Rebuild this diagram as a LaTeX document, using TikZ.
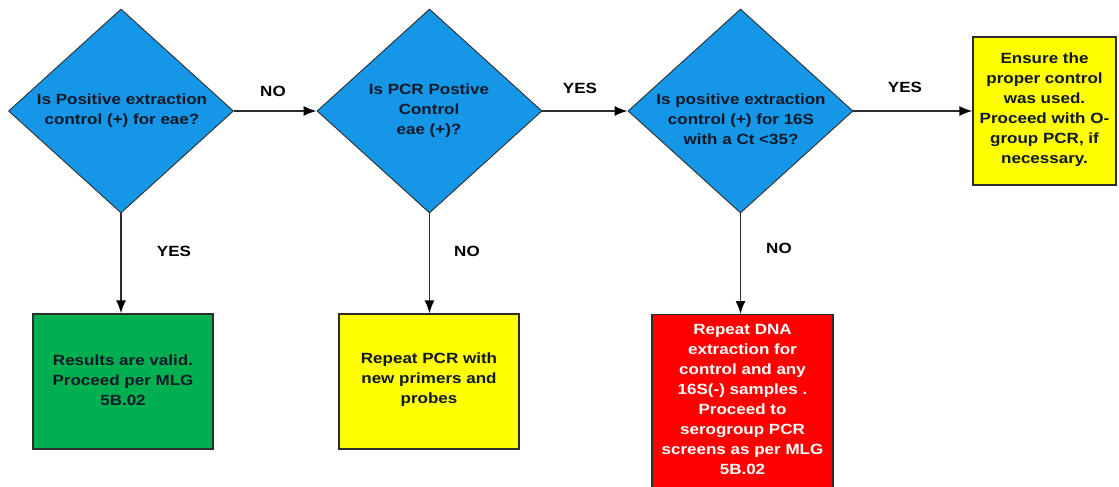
\documentclass[tikz,border=0pt]{standalone}
\usepackage{fontspec}
\setmainfont{Liberation Sans}[FakeStretch=1.15]
\usetikzlibrary{shapes.geometric,arrows.meta}
\definecolor{diablue}{RGB}{22,150,230}
\definecolor{boxgreen}{RGB}{0,176,80}
\definecolor{boxyellow}{RGB}{255,255,0}
\definecolor{boxred}{RGB}{255,0,0}
\definecolor{linegray}{RGB}{45,45,45}
\definecolor{txtdark}{RGB}{15,25,40}
\begin{document}
\begin{tikzpicture}[x=1pt,y=-1pt,
  every node/.style={font=\fontsize{14.8pt}{20pt}\selectfont\bfseries},
  dia/.style={diamond,draw=linegray,line width=0.9pt,fill=diablue,minimum width=225pt,minimum height=204pt,inner sep=0pt},
  dtext/.style={align=center,text=txtdark,inner sep=0pt},
  outbox/.style={rectangle,draw=linegray,line width=1.3pt,inner sep=0pt},
  btext/.style={align=center,inner sep=0pt},
  lbl/.style={text=black,inner sep=0pt},
  conn/.style={draw=linegray,line width=1.6pt,-{Latex[length=13pt,width=10pt,color=black]}}
]
\useasboundingbox (0,0) rectangle (1119,487);
% decisions
\node[dia] (d1) at (121,111) {};
\node[dtext] (t1) at (122,111) {Is Positive extraction\\control (+) for eae?};
\node[dia] (d2) at (429.5,111) {};
\node[dtext] (t2) at (429,111) {Is PCR Postive\\Control\\eae (+)?};
\node[dia] (d3) at (740.5,111) {};
\node[dtext] (t3) at (741,119) {Is positive extraction\\control (+) for 16S\\with a Ct <35?};
% outcome boxes
\node[outbox,fill=boxyellow,minimum width=143pt,minimum height=148pt] (b4) at (1044.5,111) {};
\node[btext,text=txtdark] (t4) at (1044.5,110) {Ensure the\\proper control\\was used.\\Proceed with O-\\group PCR, if\\necessary.};
\node[outbox,fill=boxgreen,minimum width=180pt,minimum height=135pt] (b1) at (123,381.5) {};
\node[btext,text=txtdark] (tb1) at (123,380) {Results are valid.\\Proceed per MLG\\5B.02};
\node[outbox,fill=boxyellow,minimum width=180pt,minimum height=135pt] (b2) at (429,381.5) {};
\node[btext,text=txtdark] (tb2) at (429,380) {Repeat PCR with\\new primers and\\probes};
\node[outbox,fill=boxred,minimum width=181pt,minimum height=190pt,anchor=north] (b3) at (742.5,314) {};
\node[btext,text=white,anchor=north] (tb3) at (742.5,324) {Repeat DNA\\extraction for\\control and any\\16S(-) samples .\\Proceed to\\serogroup PCR\\screens as per MLG\\5B.02};
% connectors
\draw[conn] (d1.east) -- (d2.west);
\draw[conn] (d2.east) -- (d3.west);
\draw[conn] (d3.east) -- (b4.west);
\draw[conn] (d1.south) -- (d1.south |- b1.north);
\draw[conn] (d2.south) -- (d2.south |- b2.north);
\draw[conn] (d3.south) -- (d3.south |- b3.north);
% labels
\node[lbl] (l1) at (273,91) {NO};
\node[lbl] (l2) at (580,88) {YES};
\node[lbl] (l3) at (905,87) {YES};
\node[lbl] (l4) at (174,251) {YES};
\node[lbl] (l5) at (467,251) {NO};
\node[lbl] (l6) at (779,248) {NO};
\end{tikzpicture}
\end{document}
